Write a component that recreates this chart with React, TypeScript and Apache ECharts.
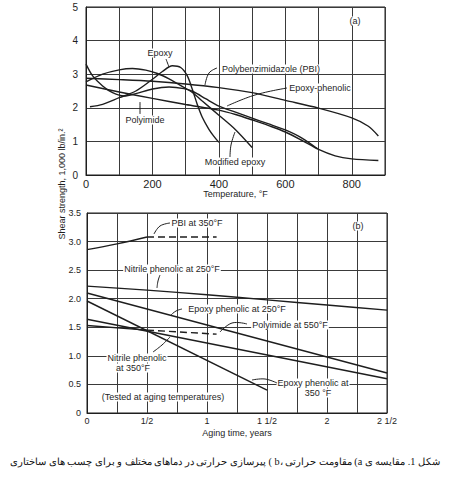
import React, { useEffect, useRef } from "react";
import * as echarts from "echarts";

// ---- Panel (a): shear strength vs temperature (°F) ----
const tempTickLabels = [0, 200, 400, 600, 800];
const strengthTicksA = [0, 1, 2, 3, 4, 5];

const epoxyA = [
  [12, 2.03], [50, 2.1], [100, 2.3], [150, 2.5], [200, 2.85], [230, 3.08],
  [260, 3.25], [285, 3.2], [305, 2.95], [320, 2.55], [335, 2.1], [350, 1.72],
  [370, 1.36], [385, 1.15], [400, 0.97],
];
const pbiA = [
  [0, 2.88], [100, 2.84], [200, 2.79], [300, 2.71], [400, 2.6], [500, 2.45],
  [600, 2.22], [700, 1.99], [800, 1.7], [850, 1.45], [880, 1.16],
];
const epoxyPhenolicA = [
  [0, 3.3], [20, 2.95], [50, 2.65], [80, 2.45], [115, 2.35], [150, 2.42],
  [200, 2.56], [250, 2.62], [295, 2.57], [325, 2.47], [360, 2.27], [400, 2.05],
  [450, 1.87], [500, 1.69], [550, 1.52], [600, 1.34], [650, 1.1], [697, 0.78],
];
const polyimideA = [
  [0, 2.68], [100, 2.47], [200, 2.28], [300, 2.1], [400, 1.93], [450, 1.8],
  [500, 1.64], [550, 1.47], [600, 1.28], [650, 1.03], [700, 0.76], [750, 0.57],
  [800, 0.48], [880, 0.43],
];
const modifiedEpoxyA = [
  [0, 2.77], [50, 3.0], [100, 3.13], [140, 3.17], [180, 3.12], [215, 3.02],
  [250, 2.86], [275, 2.72], [300, 2.58], [325, 2.42], [350, 2.2], [400, 1.78],
  [450, 1.35], [500, 0.82],
];

// ---- Panel (b): shear strength vs aging time (years) ----
const agingTickLabels = ["0", "1/2", "1", "1 1/2", "2", "2 1/2"];
const pbi350 = [[0, 2.86], [0.25, 2.96], [0.5, 3.08]];
const pbi350Dashed = [[0.5, 3.08], [1.08, 3.08]];
const nitrile250 = [[0, 2.22], [0.5, 2.15], [1, 2.07], [1.5, 1.98], [2, 1.89], [2.5, 1.8]];
const epoxyPhenolic250 = [[0, 2.1], [2.5, 0.7]];
const nitrile350 = [[0, 1.64], [2.5, 0.6]];
const epoxyPhenolic350 = [[0, 1.96], [1.5, 0.4]];
const polyimide550 = [[0, 1.53], [0.5, 1.45]];
const polyimide550Dashed = [[0.5, 1.45], [1.08, 1.38]];

const caption =
  "شکل 1. مقایسه ی a) مقاومت حرارتی ،b ) پیرسازی حرارتی در دماهای مختلف و برای چسب های ساختاری";

const INK = "#1e1e1e";
const GRIDC = "#3a3a3a";
const FONT = "'Liberation Sans', 'DejaVu Sans', sans-serif";

function lineSeries(name: string, data: number[][], idx: number, dashed = false, smooth: number | boolean = 0.3) {
  return {
    type: "line",
    name,
    data,
    xAxisIndex: idx,
    yAxisIndex: idx,
    showSymbol: false,
    symbol: "none",
    smooth,
    silent: true,
    z: 5,
    lineStyle: { color: INK, width: 1.4, type: dashed ? [7, 4] : "solid" },
  };
}

function label(text: string, x: number, y: number, bg = true) {
  return {
    type: "text",
    x,
    y,
    z: 100,
    style: {
      text,
      align: "center",
      verticalAlign: "middle",
      fontSize: 9,
      fontFamily: FONT,
      fill: INK,
      backgroundColor: bg ? "#fff" : undefined,
      padding: bg ? [0, 1] : 0,
    },
  };
}

function leader(points: number[][]) {
  return {
    type: "polyline",
    z: 101,
    shape: { points, smooth: 0.4 },
    style: { stroke: INK, lineWidth: 1, fill: null },
  };
}

export default function App() {
  const ref = useRef<HTMLDivElement>(null);
  useEffect(() => {
    const chart = echarts.init(ref.current!, null, { renderer: "svg" });
    const axisCommon = {
      axisLine: { show: true, lineStyle: { color: INK, width: 1 } },
      axisTick: { show: false },
      splitLine: { show: true, lineStyle: { color: GRIDC, width: 1 } },
    };
    chart.setOption({
      animation: false,
      backgroundColor: "#fff",
      grid: [
        { left: 86, top: 7, width: 299, height: 168, show: true, borderColor: INK, borderWidth: 1, backgroundColor: "transparent" },
        { left: 87, top: 213, width: 300, height: 200, show: true, borderColor: INK, borderWidth: 1, backgroundColor: "transparent" },
      ],
      xAxis: [
        {
          ...axisCommon,
          type: "value",
          gridIndex: 0,
          min: 0,
          max: 900,
          interval: 100,
          name: "Temperature, °F",
          nameLocation: "middle",
          nameGap: 14,
          nameTextStyle: { fontSize: 9, fontFamily: FONT, color: INK },
          axisLabel: {
            margin: 3,
            fontSize: 11,
            fontFamily: FONT,
            color: INK,
            formatter: (v: number) => (tempTickLabels.includes(v) ? String(v) : ""),
          },
        },
        {
          ...axisCommon,
          type: "value",
          gridIndex: 1,
          min: 0,
          max: 2.5,
          interval: 0.25,
          name: "Aging time, years",
          nameLocation: "middle",
          nameGap: 15,
          nameTextStyle: { fontSize: 9, fontFamily: FONT, color: INK },
          axisLabel: {
            margin: 3,
            fontSize: 9,
            fontFamily: FONT,
            color: INK,
            formatter: (v: number) => {
              const k = Math.round(v * 2);
              return Math.abs(v * 2 - k) < 1e-6 ? agingTickLabels[k] : "";
            },
          },
        },
      ],
      yAxis: [
        {
          ...axisCommon,
          type: "value",
          gridIndex: 0,
          min: 0,
          max: 5,
          interval: 1,
          axisLabel: {
            margin: 8,
            fontSize: 10,
            fontFamily: FONT,
            color: INK,
            formatter: (v: number) => (strengthTicksA.includes(v) ? String(v) : ""),
          },
        },
        {
          ...axisCommon,
          type: "value",
          gridIndex: 1,
          min: 0,
          max: 3.5,
          interval: 0.5,
          axisLabel: {
            margin: 6,
            fontSize: 9,
            fontFamily: FONT,
            color: INK,
            formatter: (v: number) => (v === 0 ? "0" : v.toFixed(1)),
          },
        },
      ],
      series: [
        lineSeries("Epoxy", epoxyA, 0),
        lineSeries("Polybenzimidazole (PBI)", pbiA, 0),
        lineSeries("Epoxy-phenolic", epoxyPhenolicA, 0),
        lineSeries("Polyimide", polyimideA, 0),
        lineSeries("Modified epoxy", modifiedEpoxyA, 0),
        lineSeries("PBI at 350°F", pbi350, 1, false, 0.4),
        lineSeries("PBI at 350°F (dashed)", pbi350Dashed, 1, true, false),
        lineSeries("Nitrile phenolic at 250°F", nitrile250, 1, false, 0.3),
        lineSeries("Epoxy phenolic at 250°F", epoxyPhenolic250, 1, false, false),
        lineSeries("Nitrile phenolic at 350°F", nitrile350, 1, false, false),
        lineSeries("Epoxy phenolic at 350°F", epoxyPhenolic350, 1, false, false),
        lineSeries("Polyimide at 550°F", polyimide550, 1, false, false),
        lineSeries("Polyimide at 550°F (dashed)", polyimide550Dashed, 1, true, false),
      ],
      graphic: [
        // y-axis title
        {
          type: "text",
          x: 62,
          y: 184,
          rotation: Math.PI / 2,
          z: 100,
          style: {
            text: "Shear strength, 1,000 lb/in.²",
            align: "center",
            verticalAlign: "middle",
            fontSize: 9,
            fontFamily: FONT,
            fill: INK,
          },
        },
        // panel (a) annotations
        label("(a)", 355, 21),
        label("Epoxy", 160, 53),
        leader([[166, 59], [169, 67]]),
        label("Polybenzimidazole (PBI)", 271, 69),
        leader([[217, 68], [209, 73], [205, 85]]),
        label("Epoxy-phenolic", 320, 88),
        leader([[287, 88], [255, 95], [227, 106]]),
        label("Polyimide", 145, 120),
        leader([[140, 114], [140, 102]]),
        label("Modified epoxy", 235, 162),
        leader([[230, 157], [231, 145], [235, 132]]),
        // panel (b) annotations
        label("(b)", 358, 226),
        label("PBI at 350°F", 197, 223),
        leader([[170, 223], [160, 226], [154, 234]]),
        label("Nitrile phenolic at 250°F", 172, 269),
        leader([[160, 275], [158, 281], [157, 288]]),
        label("Epoxy phenolic at 250°F", 237, 309),
        leader([[182, 309], [176, 311], [171, 315]]),
        label("Polyimide at 550°F", 290, 325),
        leader([[247, 324], [232, 323], [220, 332]]),
        label("Nitrile phenolic", 137, 358),
        label("at 350°F", 133, 368),
        leader([[153, 352], [162, 345], [170, 337]]),
        label("Epoxy phenolic at", 313, 383),
        label("350 °F", 318, 393),
        leader([[277, 383], [265, 379], [252, 380]]),
        label("(Tested at aging temperatures)", 163, 397),
        // caption
        {
          type: "text",
          x: 440,
          y: 461,
          z: 100,
          style: {
            text: "\u202B" + caption + "\u202C",
            align: "right",
            verticalAlign: "middle",
            fontSize: 10.2,
            fontFamily: "'Liberation Serif', 'DejaVu Serif', serif",
            fill: "#111",
          },
        },
      ],
    });
    return () => chart.dispose();
  }, []);
  return (
    <div
      ref={ref}
      style={{ position: "absolute", left: 0, top: 0, width: 450, height: 477, background: "#fff" }}
    />
  );
}
